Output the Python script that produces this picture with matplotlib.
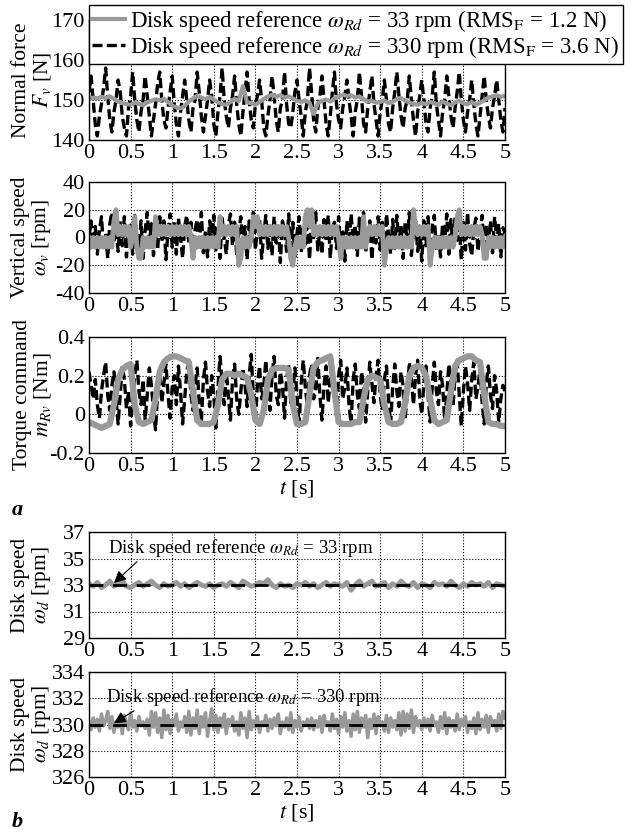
import numpy as np
import matplotlib
matplotlib.use("Agg")
import matplotlib.pyplot as plt
from matplotlib.ticker import FuncFormatter

plt.rcParams['font.family'] = ['Liberation Serif', 'DejaVu Serif']
plt.rcParams['mathtext.fontset'] = 'stix'
plt.rcParams['axes.unicode_minus'] = False
plt.rcParams['font.size'] = 16

# sample grids (s)
t_fine = np.linspace(0, 5, 201)     # 0.025 s
t_coarse = np.linspace(0, 5, 101)   # 0.05 s

# normal force [N], 330 rpm (fine grid)
force_330 = [
    152, 156, 150, 144, 141, 146, 149, 153,
    158, 151, 145, 142, 147, 150, 155, 152,
    146, 143, 141, 148, 151, 157, 150, 145,
    142, 147, 150, 156, 151, 146, 141, 145,
    149, 154, 157, 150, 145, 143, 148, 152,
    156, 149, 144, 141, 147, 151, 155, 150,
    145, 142, 148, 150, 157, 152, 146, 142,
    146, 150, 155, 151, 144, 141, 147, 151,
    158, 150, 146, 143, 148, 151, 156, 149,
    144, 141, 147, 152, 157, 150, 145, 143,
    149, 151, 155, 150, 143, 141, 146, 150,
    156, 151, 145, 142, 148, 150, 157, 149,
    144, 143, 147, 152, 155, 150, 146, 141,
    147, 150, 158, 152, 145, 142, 148, 151,
    156, 150, 144, 141, 146, 152, 157, 149,
    145, 143, 148, 151, 155, 150, 146, 141,
    147, 150, 157, 151, 144, 142, 148, 152,
    156, 149, 145, 141, 147, 150, 155, 150,
    144, 142, 148, 152, 157, 151, 146, 143,
    148, 150, 156, 150, 145, 141, 147, 151,
    155, 150, 144, 142, 148, 151, 157, 149,
    145, 141, 147, 150, 156, 151, 146, 143,
    148, 152, 157, 150, 145, 142, 147, 150,
    155, 149, 144, 141, 146, 151, 156, 150,
    146, 143, 148, 151, 155, 150, 145, 142,
    148]

# normal force [N], 33 rpm (coarse grid)
force_33 = [
    150.2, 150.6, 150.4, 150.8, 150.5, 150.9, 150.3, 149.6, 149.2, 149.0,
    148.8, 149.3, 149.0, 148.7, 149.4, 149.8, 150.2, 149.9, 150.3, 149.5,
    148.6, 148.2, 147.9, 148.5, 149.6, 150.4, 151.0, 150.6, 150.2, 150.8,
    150.1, 149.4, 149.0, 148.8, 149.5, 150.3, 149.7, 153.5, 149.4, 149.2,
    148.8, 149.5, 150.2, 150.9, 151.3, 150.8, 151.2, 150.6, 150.9, 150.4,
    149.8, 149.5, 149.9, 149.3, 146.5, 149.2, 149.8, 150.1, 149.6, 150.4,
    150.8, 151.4, 151.0, 151.2, 150.6, 150.9, 150.2, 149.6, 149.8, 149.3,
    149.5, 149.9, 149.2, 149.6, 150.2, 150.5, 149.8, 149.4, 149.0, 148.8,
    149.3, 148.9, 149.5, 149.2, 148.8, 149.6, 149.1, 148.7, 149.4, 149.8,
    149.2, 148.9, 149.5, 148.8, 149.3, 149.9, 150.6, 150.9, 151.2, 150.8,
    151.0]

# vertical speed [rpm], 330 rpm (fine grid)
vspeed_330 = [
    0, 12, -5, 8, -12, 5, 15, -8,
    3, -15, 10, 18, -3, 7, -10, 12,
    -6, 15, -14, 4, 9, -12, 16, 0,
    -8, 12, -15, 5, 18, -5, 10, -13,
    7, -9, 15, -3, 12, -16, 4, 17,
    -7, 10, -12, 14, 0, -15, 8, 16,
    -4, 11, -17, 6, 13, -8, 18, -11,
    5, -14, 12, -2, 16, -9, 7, -15,
    14, 0, -12, 9, 17, -6, 11, -13,
    4, 15, -10, 8, -16, 12, -3, 18,
    -9, 6, 13, -15, 2, 16, -8, 10,
    -13, 15, -4, 9, -18, 12, 5, -10,
    17, -7, 11, -14, 3, 15, -11, 8,
    -5, 14, -16, 10, 0, 18, -9, 6,
    -12, 13, -3, 16, -15, 7, 11, -8,
    15, -10, 4, -17, 12, -6, 17, -2,
    9, -13, 14, -7, 18, -11, 5, 12,
    -16, 8, -4, 15, -9, 11, -14, 17,
    2, -12, 13, -8, 16, -5, 9, -15,
    11, -3, 18, -13, 6, 14, -10, 4,
    -17, 12, -6, 15, -11, 8, 16, -9,
    3, -14, 10, -5, 17, -12, 13, -7,
    15, -2, 8, -16, 11, -9, 18, -4,
    -13, 6, 14, -10, 2, 16, -15, 9,
    -6, 12, -11, 15, -3, 10, -14, 7,
    3]

# vertical speed [rpm], 33 rpm (fine grid, quantised)
vspeed_33 = [
    0, -7, 0, -7, 0, -7, 0, -7, 0, -7, 0, -7,
    12, 20,
    2, 8, 2, 8, 2, 8,
    -7, 0, 15, -7, -15, -15,
    0, -7, 0, -7, 0, -7,
    15,
    2, 8, 2, 8, 2, 8, 2, 8, 2, 8, 2, 8, 2, 8, 2, 8,
    0, -15,
    0, -7, 0, -7, 0, -7, 0, -7, 0, -7, 0, -7,
    15,
    2, 8, 2, 8, 2, 8, 2, 8,
    -20, -15,
    0, -7, 0, -7, 0,
    15, 8, 15,
    2, 8, 2, 8, 2, 8, 2, 8, 2, 8, 2, 8, 2, 8,
    0, -15, -20, -7,
    0, -7, 0, -7,
    15, 20, 8, 20,
    2, 8, 2, 8, 2, 8, 2, 8, 2, 8, 2, 8,
    0, -15,
    0, -7, 0, -7, 0, -7, 0, -7, 0, -7,
    15, -7,
    2, 8, 2, 8, 2, 8, 2, 8,
    -20, -7,
    0, -7, 0, -7, 0, -7, 0, -7, 0, -7, 0, -7,
    20, 8,
    2, 8, 2, 8, 2, 8,
    -20, -7,
    0, -7, 0, -7, 0, -7, 0, -7, 0, -7, 0,
    15, 20,
    2, 8, 2, 8, 2, 8, 2, 8, 2, 8, 2,
    -15, -15,
    0, -7, 0, -7, 0, -7, 0, -7, 0]

# torque command [Nm], 330 rpm (fine grid)
torque_330 = [
    0.22, 0.15, 0.08, 0.18, 0.05, -0.02, 0.12, 0.20,
    0.27, 0.10, 0.02, 0.15, 0.22, 0.08, -0.05, 0.10,
    0.25, 0.18, 0.03, 0.12, -0.06, 0.08, 0.20, 0.28,
    0.12, 0.05, 0.18, -0.03, 0.10, 0.24, 0.15, 0.02,
    -0.08, 0.12, 0.22, 0.06, 0.16, 0.26, 0.10, -0.02,
    0.14, 0.20, 0.05, 0.25, 0.12, -0.05, 0.08, 0.22,
    0.28, 0.10, 0.02, 0.15, 0.24, 0.06, -0.04, 0.18,
    0.27, 0.12, 0.04, 0.20, 0.10, -0.07, 0.14, 0.30,
    0.16, 0.05, 0.22, 0.10, -0.03, 0.18, 0.26, 0.08,
    0.00, 0.12, 0.24, 0.15, 0.04, 0.20, 0.31, 0.10,
    -0.04, 0.16, 0.25, 0.08, 0.14, 0.28, 0.12, 0.02,
    0.20, 0.30, 0.10, 0.05, 0.22, 0.15, -0.02, 0.18,
    0.26, 0.06, 0.12, 0.24, 0.10, -0.06, 0.16, 0.28,
    0.14, 0.04, 0.20, 0.26, 0.08, 0.12, 0.29, 0.10,
    -0.03, 0.15, 0.25, 0.06, 0.18, 0.27, 0.12, 0.00,
    0.20, 0.28, 0.08, 0.14, 0.24, 0.05, -0.05, 0.18,
    0.26, 0.10, 0.03, 0.22, 0.15, -0.04, 0.12, 0.27,
    0.16, 0.06, 0.20, 0.28, 0.10, 0.02, 0.18, 0.25,
    0.08, -0.05, 0.14, 0.26, 0.12, 0.04, 0.22, 0.15,
    -0.02, 0.10, 0.27, 0.18, 0.05, 0.20, 0.28, 0.08,
    0.00, 0.16, 0.25, 0.10, -0.04, 0.14, 0.27, 0.12,
    0.05, 0.22, 0.15, -0.03, 0.10, 0.26, 0.18, 0.04,
    0.20, 0.28, 0.10, -0.06, 0.12, 0.25, 0.16, 0.02,
    0.18, 0.27, 0.08, 0.14, 0.24, 0.06, -0.05, 0.16,
    0.25, 0.10, 0.03, 0.20, 0.12, -0.04, 0.08, 0.15,
    0.12]

# torque command [Nm], 33 rpm (coarse grid)
torque_33 = [
    -0.04, -0.05, -0.06, -0.07, -0.06, -0.05, 0.05, 0.18, 0.23, 0.25,
    0.26, 0.05, -0.04, -0.05, -0.04, -0.03, 0.08, 0.22, 0.27, 0.29,
    0.30, 0.30, 0.29, 0.28, 0.27, 0.12, -0.03, -0.05, -0.05, -0.05,
    -0.04, 0.05, 0.18, 0.21, 0.21, 0.20, 0.21, 0.20, 0.19, 0.10,
    -0.03, -0.05, 0.02, 0.18, 0.23, 0.24, 0.24, 0.24, 0.23, 0.05,
    -0.05, -0.05, -0.04, 0.10, 0.24, 0.27, 0.28, 0.29, 0.30, 0.12,
    -0.04, -0.05, -0.05, -0.05, -0.04, -0.04, 0.08, 0.18, 0.20, 0.19,
    0.18, 0.05, -0.04, -0.05, -0.05, -0.04, 0.06, 0.20, 0.24, 0.25,
    0.24, 0.20, 0.08, -0.03, -0.05, -0.04, -0.03, 0.12, 0.25, 0.28,
    0.29, 0.30, 0.30, 0.28, 0.27, 0.10, -0.04, -0.05, -0.05, -0.06,
    -0.06]

# disk speed [rpm], reference 33 rpm (coarse grid)
disk_33 = [
    33.1, 32.9, 33.2, 32.8, 33.0, 33.3, 32.9, 33.1, 33.3, 32.9,
    32.8, 33.0, 33.2, 32.9, 33.1, 33.3, 33.0, 32.8, 33.1, 32.9,
    33.0, 33.2, 32.9, 33.1, 32.8, 33.0, 33.2, 33.0, 32.9, 33.1,
    32.8, 33.0, 33.1, 32.9, 33.2, 33.0, 32.8, 33.3, 33.1, 32.9,
    33.0, 33.2, 33.1, 33.4, 33.0, 32.8, 33.1, 32.9, 33.0, 32.8,
    33.1, 33.0, 33.2, 32.9, 33.1, 32.8, 33.0, 33.2, 32.9, 33.1,
    33.0, 32.9, 33.2, 32.6, 33.0, 33.3, 32.9, 33.1, 33.3, 32.9,
    33.0, 33.2, 32.8, 33.1, 32.9, 33.3, 33.0, 32.9, 33.2, 32.8,
    33.1, 33.0, 32.8, 33.2, 33.0, 33.1, 32.9, 33.3, 33.0, 32.8,
    33.1, 32.9, 33.2, 33.0, 33.1, 32.9, 33.2, 32.8, 33.1, 33.0,
    32.9]

# disk speed [rpm], reference 330 rpm (fine grid)
disk_330 = [
    330.2, 329.6, 330.5, 329.8, 330.4, 329.5, 330.8, 329.9,
    330.3, 331.0, 329.7, 330.6, 329.4, 330.2, 329.8, 330.5,
    329.3, 330.7, 330.1, 329.6, 330.9, 329.8, 330.3, 329.5,
    330.6, 329.9, 330.2, 329.7, 330.4, 329.2, 331.0, 329.8,
    330.9, 329.4, 330.5, 329.0, 331.1, 329.6, 330.7, 329.3,
    330.4, 329.9, 330.8, 329.5, 330.2, 329.8, 330.6, 329.4,
    331.0, 329.2, 330.5, 329.7, 331.1, 329.3, 330.6, 329.8,
    330.9, 329.1, 330.3, 331.2, 329.6, 330.7, 329.4, 330.5,
    329.8, 330.8, 329.3, 330.4, 329.9, 330.6, 329.5, 330.2,
    329.2, 330.9, 329.7, 330.5, 329.0, 331.0, 329.6, 330.3,
    329.8, 330.6, 329.4, 330.2, 329.9, 330.7, 329.5, 330.4,
    329.7, 330.5, 329.9, 330.8, 329.3, 330.2, 329.8, 330.5,
    329.6, 330.9, 329.4, 330.3, 329.8, 330.6, 329.5, 330.2,
    329.9, 330.4, 329.7, 330.5, 329.6, 330.3, 329.8, 330.6,
    329.4, 330.7, 329.9, 330.2, 329.5, 330.8, 329.7, 330.4,
    329.3, 330.6, 329.8, 330.9, 329.5, 330.3, 329.1, 330.8,
    329.6, 331.0, 329.4, 330.5, 329.8, 330.7, 329.0, 330.4,
    329.7, 330.8, 329.3, 330.6, 329.9, 330.2, 329.5, 330.7,
    329.4, 330.5, 329.8, 330.3, 329.6, 330.9, 329.2, 331.0,
    329.5, 330.8, 329.7, 331.1, 329.4, 330.6, 329.9, 330.3,
    329.6, 330.5, 329.8, 330.4, 329.5, 330.7, 329.9, 330.2,
    329.4, 330.6, 329.7, 330.9, 329.3, 330.5, 329.8, 330.3,
    329.5, 330.8, 329.6, 330.4, 329.9, 330.6, 329.4, 330.2,
    329.7, 330.5, 329.3, 330.9, 329.6, 330.4, 329.8, 330.7,
    329.4, 330.6, 329.9, 330.3, 329.5, 330.8, 329.7, 331.0,
    330.5]

ref_t = [0, 5]
ref_33 = [33, 33]
ref_330 = [330, 330]

GRAY = '#999999'
W, H = 640, 832


def rect(x0, top, x1, bottom):
    return [x0 / W, 1 - bottom / H, (x1 - x0) / W, (bottom - top) / H]


def style(ax, ylim, yticks, ylabel, yfmt=None):
    ax.set_xlim(0, 5)
    ax.set_ylim(*ylim)
    ax.set_xticks(np.arange(0, 5.01, 0.5))
    ax.xaxis.set_major_formatter(FuncFormatter(lambda v, p: f'{v:g}'))
    ax.set_yticks(yticks)
    if yfmt:
        ax.yaxis.set_major_formatter(FuncFormatter(yfmt))
    ax.grid(True, color='black', linestyle=':', linewidth=0.8)
    ax.tick_params(direction='in', length=0, pad=3, labelsize=16)
    ax.set_ylabel(ylabel, fontsize=15.5, linespacing=1.0)
    ax.yaxis.set_label_coords(-0.087, 0.5)
    for s in ax.spines.values():
        s.set_linewidth(1.0)


def torque_fmt(v, p):
    if abs(v) < 1e-9:
        return '0'
    return f'{v:.1f}'


fig = plt.figure(figsize=(6.4, 8.32), dpi=100)

ax1 = fig.add_axes(rect(89, 20, 505, 140))
ax2 = fig.add_axes(rect(89, 182, 505, 293))
ax3 = fig.add_axes(rect(89, 337, 505, 453))
ax4 = fig.add_axes(rect(89, 532, 505, 638))
ax5 = fig.add_axes(rect(89, 672, 505, 777))

dash = dict(color='black', linestyle=(0, (3, 1.3)), linewidth=2.4)

l330, = ax1.plot(t_fine, force_330, **dash)
l33, = ax1.plot(t_coarse, force_33, color=GRAY, linewidth=3)
style(ax1, (140, 170), [140, 150, 160, 170], 'Normal force\n$F_v$ [N]')

ax2.plot(t_fine, vspeed_330, **dash)
ax2.plot(t_fine, vspeed_33, color=GRAY, linewidth=3.5)
style(ax2, (-40, 40), [-40, -20, 0, 20, 40], 'Vertical speed\n$\\omega_v$ [rpm]')

ax3.plot(t_fine, torque_330, **dash)
ax3.plot(t_coarse, torque_33, color=GRAY, linewidth=4.5)
style(ax3, (-0.2, 0.4), [-0.2, 0, 0.2, 0.4], 'Torque command\n$m_{Rv}$ [Nm]', yfmt=torque_fmt)
ax3.set_xlabel('$t$ [s]', fontsize=16, labelpad=1)

ax4.plot(t_coarse, disk_33, color=GRAY, linewidth=3.5)
ax4.plot(ref_t, ref_33, color='black', linewidth=2, linestyle=(0, (5, 3.5)))
style(ax4, (29, 37), [29, 31, 33, 35, 37], 'Disk speed\n$\\omega_d$ [rpm]')
ax4.annotate('Disk speed reference $\\omega_{Rd}$ = 33 rpm', xy=(0.3, 33.15), xytext=(0.23, 35.8),
             fontsize=13.5, va='center', ha='left',
             arrowprops=dict(arrowstyle='-|>', color='black', lw=0.8, shrinkA=0, shrinkB=0,
                             mutation_scale=18, relpos=(0.12, 0.0)))

ax5.plot(t_fine, disk_330, color=GRAY, linewidth=2.5)
ax5.plot(ref_t, ref_330, color='black', linewidth=2, linestyle=(0, (5, 3.5)))
style(ax5, (326, 334), [326, 328, 330, 332, 334], 'Disk speed\n$\\omega_d$ [rpm]')
ax5.annotate('Disk speed reference $\\omega_{Rd}$ = 330 rpm', xy=(0.3, 330.1), xytext=(0.2, 332.1),
             fontsize=13.5, va='center', ha='left',
             arrowprops=dict(arrowstyle='-|>', color='black', lw=0.8, shrinkA=0, shrinkB=0,
                             mutation_scale=18, relpos=(0.12, 0.0)))
ax5.set_xlabel('$t$ [s]', fontsize=16, labelpad=1)

leg = fig.legend([l33, l330],
                 ['Disk speed reference $\\omega_{Rd}$ = 33 rpm (RMS$_\\mathrm{F}$ = 1.2 N)',
                  'Disk speed reference $\\omega_{Rd}$ = 330 rpm (RMS$_\\mathrm{F}$ = 3.6 N)'],
                 loc='upper left', bbox_to_anchor=(89 / W, 1 - 5 / H), fontsize=16.5,
                 frameon=True, fancybox=False, framealpha=1, edgecolor='black',
                 borderpad=0.15, labelspacing=0.0, handlelength=1.4, handletextpad=0.25,
                 borderaxespad=0)
leg.get_frame().set_linewidth(1.0)

fig.text(12 / W, 1 - 510 / H, 'a', fontsize=16, fontweight='bold', fontstyle='italic', va='center')
fig.text(12 / W, 1 - 822 / H, 'b', fontsize=16, fontweight='bold', fontstyle='italic', va='center')

fig.savefig('out.png', dpi=100)
